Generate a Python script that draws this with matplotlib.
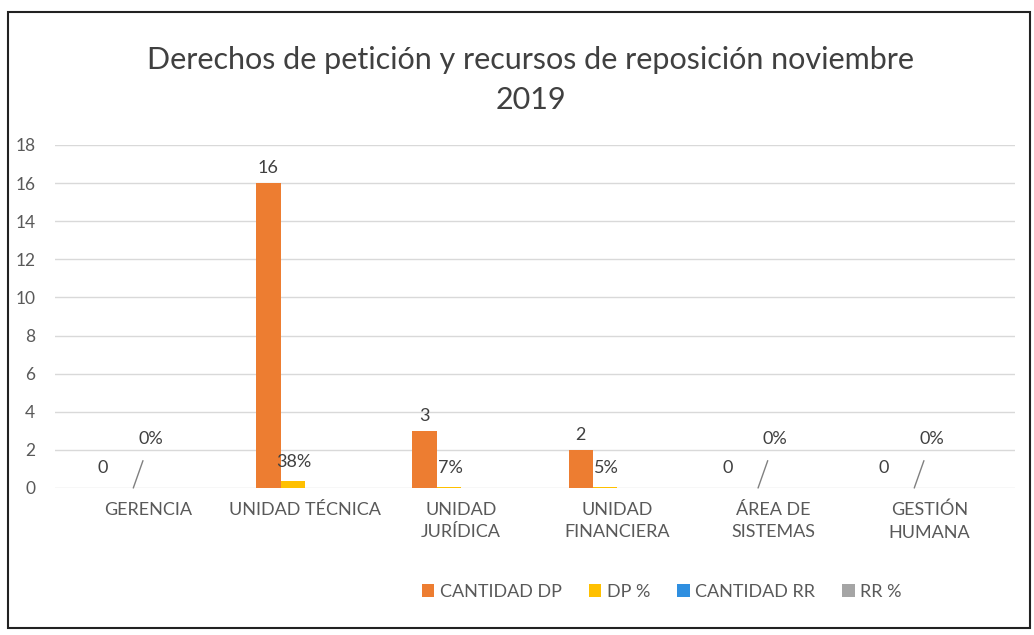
import matplotlib.pyplot as plt
import matplotlib.patches as patches
import numpy as np

plt.rcParams['font.family'] = ['Lato', 'DejaVu Sans']

categories = ['GERENCIA', 'UNIDAD TÉCNICA', 'UNIDAD\nJURÍDICA', 'UNIDAD\nFINANCIERA',
              'ÁREA DE\nSISTEMAS', 'GESTIÓN\nHUMANA']
cantidad_dp = [0, 16, 3, 2, 0, 0]
dp_pct = [0, 0.38, 0.07, 0.05, 0, 0]
cantidad_rr = [0, 0, 0, 0, 0, 0]
rr_pct = [0, 0, 0, 0, 0, 0]
series_names = ['CANTIDAD DP', 'DP %', 'CANTIDAD RR', 'RR %']
colors = ['#ED7D31', '#FFC000', '#2F8FE0', '#A5A5A5']

fig = plt.figure(figsize=(10.34, 6.35), dpi=100)
# wider x range so the grid starts further left, like the reference
ax = fig.add_axes([0.053, 0.2315, 0.929, 0.5402])

x = np.arange(len(categories))
w = 0.155
series = [cantidad_dp, dp_pct, cantidad_rr, rr_pct]
for i, (vals, name, c) in enumerate(zip(series, series_names, colors)):
    ax.bar(x + (i - 1.5) * w, vals, width=w, color=c, label=name)

txt = '#404040'
# value labels for CANTIDAD DP
for xi, v in zip(x, cantidad_dp):
    bx = xi - 1.5 * w
    if v > 0:
        ax.annotate(str(v), (bx, v), xytext=(0, 5), textcoords='offset points',
                    ha='center', va='bottom', fontsize=13, color=txt)
    else:
        ax.text(bx - 0.06, 1.05, '0', ha='center', va='center', fontsize=13, color=txt)

# value labels for DP %
for xi, v in zip(x, dp_pct):
    bx = xi - 0.5 * w
    if v > 0:
        ax.text(bx + 0.01, v + 1.0, '%d%%' % round(v * 100), ha='center', va='center',
                fontsize=13, color=txt)
    else:
        ax.annotate('0%', (bx - 0.02, 0.0), xytext=(bx + 0.09, 2.55), ha='center',
                    va='center', fontsize=13, color=txt,
                    arrowprops=dict(arrowstyle='-', color='#808080', lw=1, shrinkA=8, shrinkB=0))

ax.set_ylim(0, 18)
ax.set_xlim(-0.6, 5.55)
ax.set_yticks(range(0, 19, 2))
ax.set_xticks(x)
ax.set_xticklabels(categories, fontsize=13, color='#595959', linespacing=1.5)
ax.tick_params(axis='y', labelsize=12.5, colors='#595959', length=0, pad=14)
ax.tick_params(axis='x', length=0, pad=10)
ax.yaxis.grid(True, color='#D9D9D9', lw=1)
ax.set_axisbelow(True)
for s in ax.spines.values():
    s.set_visible(False)

fig.text(0.513, 0.905, 'Derechos de petición y recursos de reposición noviembre',
         ha='center', va='center', fontsize=22, color=txt)
fig.text(0.513, 0.842, '2019', ha='center', va='center', fontsize=22, color=txt)

leg = fig.legend(loc='center', bbox_to_anchor=(0.64, 0.068), ncol=4, frameon=False,
                 fontsize=13, handlelength=0.7, handleheight=0.7, handletextpad=0.3,
                 columnspacing=1.5)
for t in leg.get_texts():
    t.set_color('#595959')

fig.patches.append(patches.Rectangle((0.008, 0.011), 0.988, 0.97, transform=fig.transFigure,
                                     fill=False, edgecolor='#222222', lw=1.5))

fig.savefig('out.png', dpi=100)
